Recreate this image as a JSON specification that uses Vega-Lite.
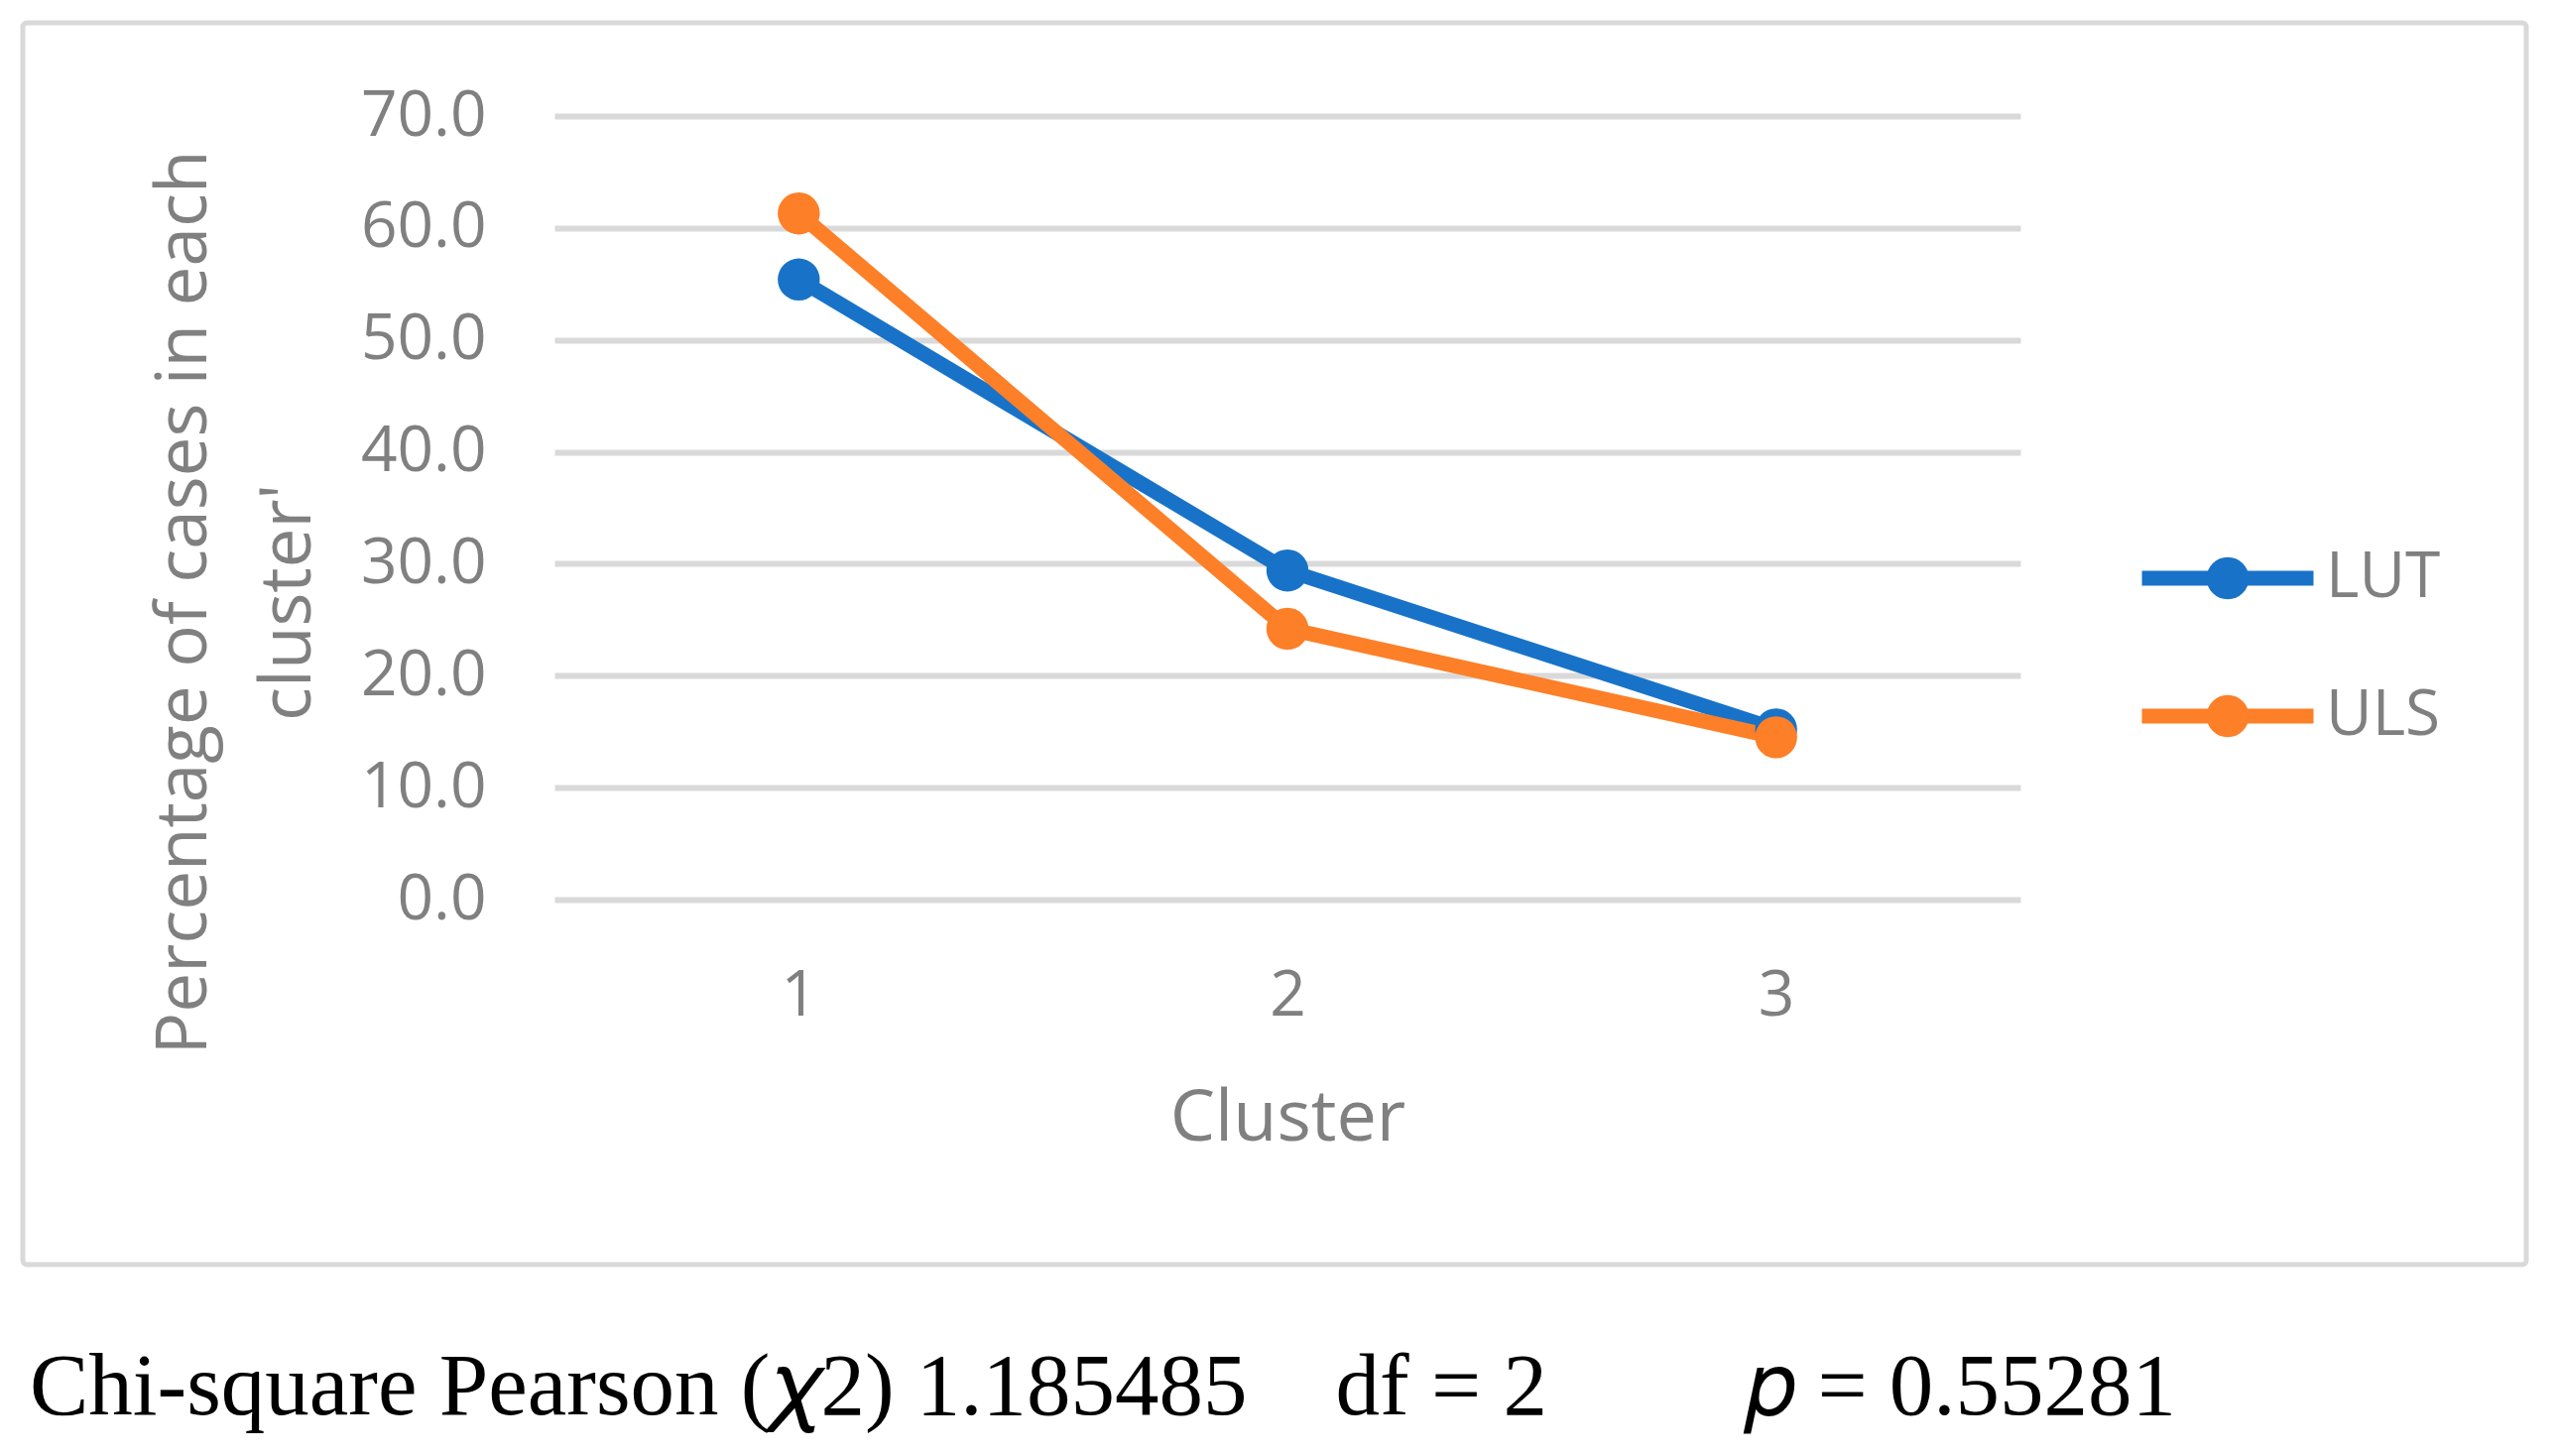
{
  "$schema": "https://vega.github.io/schema/vega-lite/v6.json",
  "width": 2524,
  "height": 1252,
  "autosize": {"type": "none"},
  "padding": {"left": 23, "top": 23, "right": 33, "bottom": 193},
  "background": "white",
  "config": {
    "view": {"stroke": "#d9d9d9", "strokeWidth": 5, "cornerRadius": 4},
    "font": "Open Sans"
  },
  "title": {
    "text": "Chi-square Pearson (𝜒2) 1.185485\u00a0\u00a0\u00a0 df = 2\u00a0\u00a0\u00a0\u00a0\u00a0\u00a0\u00a0\u00a0 𝑝 = 0.55281",
    "orient": "bottom",
    "anchor": "start",
    "frame": "group",
    "font": "Liberation Serif",
    "fontSize": 89,
    "fontWeight": "normal",
    "color": "#000000",
    "baseline": "top",
    "offset": 81,
    "dx": 7
  },
  "data": {
    "values": [
      {"cluster": 1, "group": "LUT", "pct": 55.4},
      {"cluster": 2, "group": "LUT", "pct": 29.4},
      {"cluster": 3, "group": "LUT", "pct": 15.2},
      {"cluster": 1, "group": "ULS", "pct": 61.3},
      {"cluster": 2, "group": "ULS", "pct": 24.2},
      {"cluster": 3, "group": "ULS", "pct": 14.5}
    ]
  },
  "mark": {
    "type": "line",
    "strokeWidth": 15,
    "strokeCap": "round",
    "strokeJoin": "round",
    "point": {"filled": true, "size": 1800, "opacity": 1}
  },
  "encoding": {
    "x": {
      "field": "cluster",
      "type": "ordinal",
      "scale": {"type": "point", "padding": 0.5, "range": [536, 2014]},
      "axis": {
        "domain": false,
        "ticks": false,
        "tickSize": 0,
        "grid": false,
        "labelPadding": -271,
        "labelBaseline": "middle",
        "labelAngle": 0,
        "labelFontSize": 64,
        "labelColor": "#808080",
        "title": "Cluster",
        "titleFontSize": 72,
        "titleFontWeight": "normal",
        "titleColor": "#808080",
        "titleY": -148,
        "titleBaseline": "middle"
      }
    },
    "y": {
      "field": "pct",
      "type": "quantitative",
      "scale": {"domain": [0, 70], "nice": false, "range": [884, 94]},
      "axis": {
        "values": [0, 10, 20, 30, 40, 50, 60, 70],
        "format": ".1f",
        "domain": false,
        "ticks": false,
        "tickSize": 0,
        "grid": true,
        "gridColor": "#d9d9d9",
        "gridWidth": 6,
        "labelPadding": -467,
        "labelFontSize": 64,
        "labelColor": "#808080",
        "title": ["Percentage of cases in each", "cluster'"],
        "titleFontSize": 71,
        "titleFontWeight": "normal",
        "titleColor": "#808080",
        "titleAngle": -90,
        "titleAlign": "center",
        "titleBaseline": "middle",
        "titleLineHeight": 105,
        "titleX": 163,
        "titleY": 584
      }
    },
    "color": {
      "field": "group",
      "type": "nominal",
      "scale": {"domain": ["LUT", "ULS"], "range": ["#1873c8", "#fd7f27"]},
      "legend": {
        "orient": "none",
        "legendX": 2129,
        "legendY": 466,
        "title": null,
        "padding": 0,
        "symbolType": "M-1,0H1M-0.16,0A0.16,0.16,0,1,0,0.16,0A0.16,0.16,0,1,0,-0.16,0",
        "symbolSize": 29929,
        "symbolStrokeWidth": 15,
        "labelFontSize": 64,
        "labelColor": "#808080",
        "labelOffset": 5,
        "rowPadding": 1
      }
    }
  }
}
